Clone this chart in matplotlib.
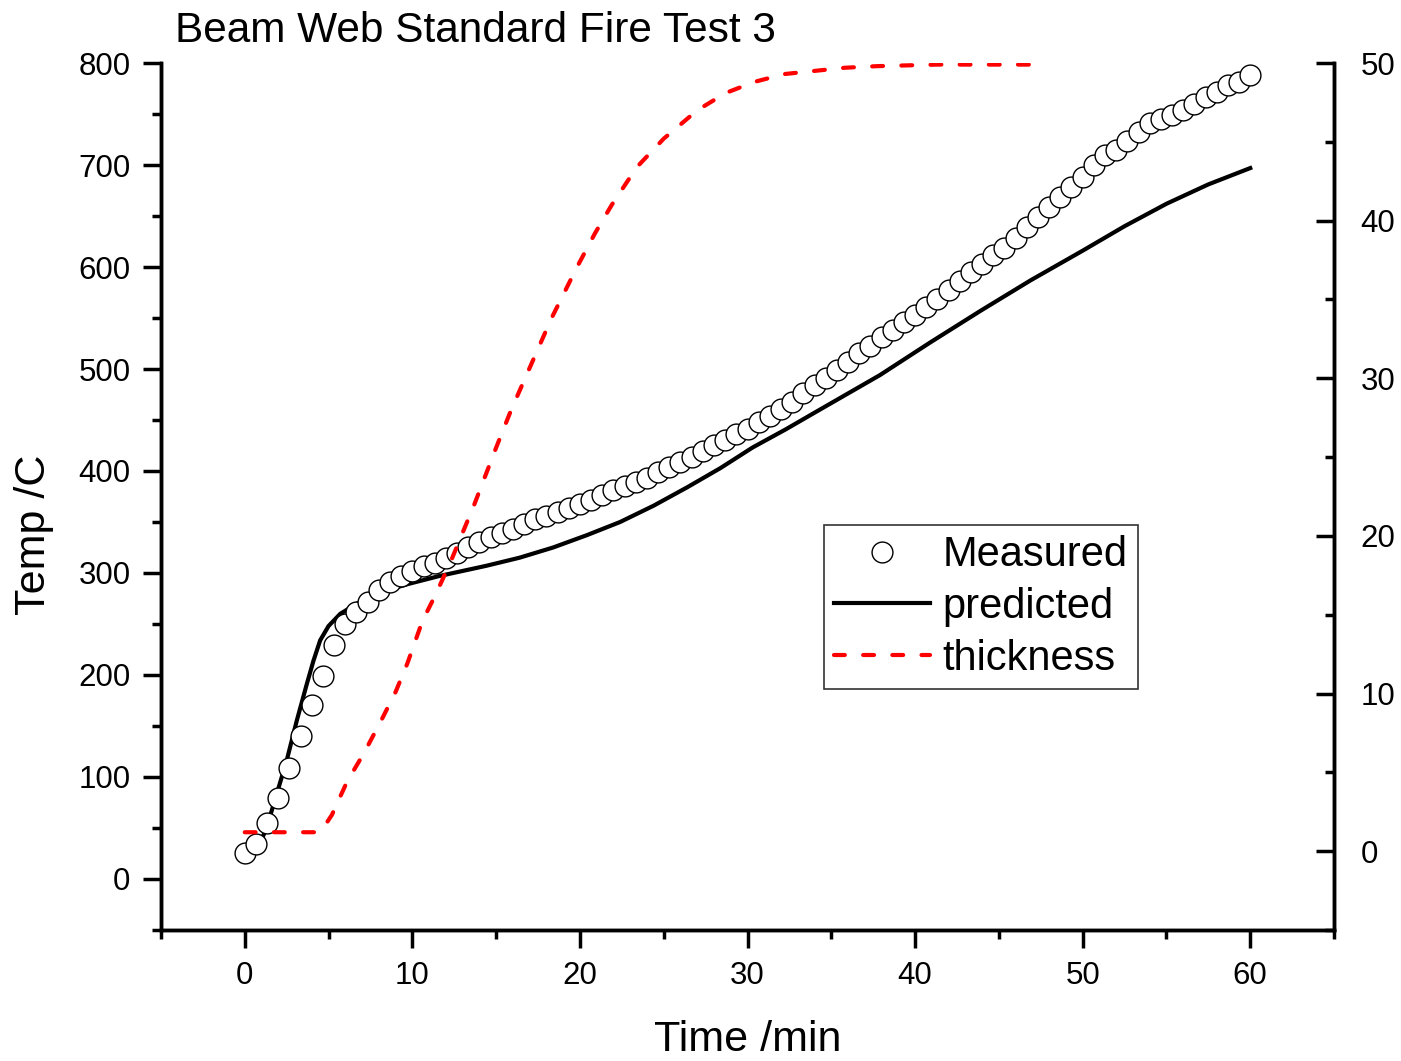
import numpy as np
import matplotlib
matplotlib.use("Agg")
import matplotlib.pyplot as plt
from matplotlib.ticker import MultipleLocator

plt.rcParams["font.family"] = ["Liberation Sans", "DejaVu Sans"]

# Measured web temperature (C), logged every 40 s
measuredTemp = [25, 34, 55, 79, 109, 140, 171, 199, 229, 250, 262, 272, 283, 291, 297, 302, 307,
                310, 315, 320, 325, 330, 335, 339, 343, 348, 353, 356, 360, 364, 368, 372, 376,
                381, 385, 389, 393, 399, 404, 409, 414, 420, 425, 430, 436, 441, 448, 454, 461,
                468, 476, 484, 491, 499, 507, 516, 523, 531, 538, 546, 553, 561, 569, 577, 586,
                595, 603, 612, 619, 628, 639, 649, 659, 669, 678, 688, 700, 710, 715, 724, 732,
                741, 745, 749, 754, 760, 767, 772, 778, 781, 788]
sampleStep = 40 / 60  # minutes between readings
measuredTime = np.arange(len(measuredTemp)) * sampleStep

# Predicted temperature (C)
predTime = [0, 0.7, 1.3, 1.9, 2.5, 3.1, 3.7, 4.1, 4.5, 5.0, 5.7, 6.7, 7.7, 8.7, 9.7, 11.6,
            13.0, 14.4, 16.4, 18.4, 20.4, 22.4, 24.4, 26.4, 28.4, 30.3, 32.3, 34.3, 36.1,
            37.9, 40.9, 43.9, 46.9, 50.0, 52.5, 55.0, 57.5, 60]
predTemp = [20, 27, 50, 83, 116, 155, 191, 214, 234, 248, 260, 270, 278, 284, 289, 297,
            302, 307, 315, 325, 337, 350, 366, 384, 403, 423, 441, 460, 477,
            494, 526, 557, 587, 616, 640, 662, 681, 697]

# Thickness (right axis)
thickTime = [0, 4.3, 4.7, 5.2, 6.1, 7.1, 8.1, 9.0, 9.7, 10.6, 11.4, 12.3, 13.7, 15.0, 15.9,
             18.3, 19.8, 20.9, 21.9, 23.4, 25.0, 27.0, 28.7, 30.4, 32.2, 34.0, 35.8, 37.7,
             39.5, 41.3, 43.1, 44.9, 47.5]
thickness = [1.2, 1.2, 1.5, 2.3, 4.4, 6.2, 8.2, 10.1, 11.9, 14.6, 16.3, 18.4, 22.0, 25.6, 28.0,
             33.8, 37.0, 39.2, 41.0, 43.4, 45.2, 47.0, 48.1, 48.8, 49.3, 49.5, 49.7, 49.8,
             49.85, 49.9, 49.9, 49.9, 49.9]

fig = plt.figure(figsize=(14.01, 10.61), dpi=100)
ax = fig.add_axes([0.1149, 0.1235, 0.8373, 0.8171])
ax2 = ax.twinx()

l1, = ax.plot(measuredTime, measuredTemp, ls="none", marker="o", ms=15, mfc="white",
              mec="black", mew=1.0, label="Measured", zorder=3)
l2, = ax.plot(predTime, predTemp, color="black", lw=3.0, label="predicted", zorder=2,
              solid_joinstyle="round")
l3, = ax2.plot(thickTime, thickness, color="red", lw=3.0, dashes=(2.6, 4.4),
               dash_capstyle="round", label="thickness")

ax.set_xlim(-5, 65)
ax.set_ylim(-50, 800)
ax2.set_ylim(-5, 50)

ax.xaxis.set_major_locator(MultipleLocator(10))
ax.xaxis.set_minor_locator(MultipleLocator(5))
ax.yaxis.set_major_locator(MultipleLocator(100))
ax.yaxis.set_minor_locator(MultipleLocator(50))
ax2.yaxis.set_major_locator(MultipleLocator(10))
ax2.yaxis.set_minor_locator(MultipleLocator(5))

for a in (ax, ax2):
    for side in a.spines:
        a.spines[side].set_linewidth(2.5)
    a.spines["top"].set_visible(False)

ax.tick_params(which="major", direction="out", length=13, width=2.5, labelsize=22.5, pad=9)
ax.tick_params(which="minor", direction="out", length=6.5, width=2.5)
ax2.tick_params(which="major", direction="in", length=13, width=2.5, labelsize=22.5, pad=19)
ax2.tick_params(which="minor", direction="in", length=6.5, width=2.5)

ax.set_xlabel("Time /min", fontsize=31)
ax.xaxis.set_label_coords(0.5, -0.104)
ax.set_ylabel("Temp /C", fontsize=31)
ax.yaxis.set_label_coords(-0.091, 0.456)
fig.text(175 / 1401, 1 - 42 / 1061, "Beam Web Standard Fire Test 3", fontsize=30.5,
         ha="left", va="baseline")

leg = ax2.legend(handles=[l1, l2, l3], loc="upper left",
                 bbox_to_anchor=((824 - 161) / 1173, (930 - 525) / 867),
                 fontsize=30, frameon=True, fancybox=False, edgecolor="black",
                 handlelength=2.3, handletextpad=0.3, labelspacing=0.28,
                 borderpad=0.25, borderaxespad=0)
leg.get_frame().set_linewidth(1.2)

fig.savefig("out.png", dpi=100)
